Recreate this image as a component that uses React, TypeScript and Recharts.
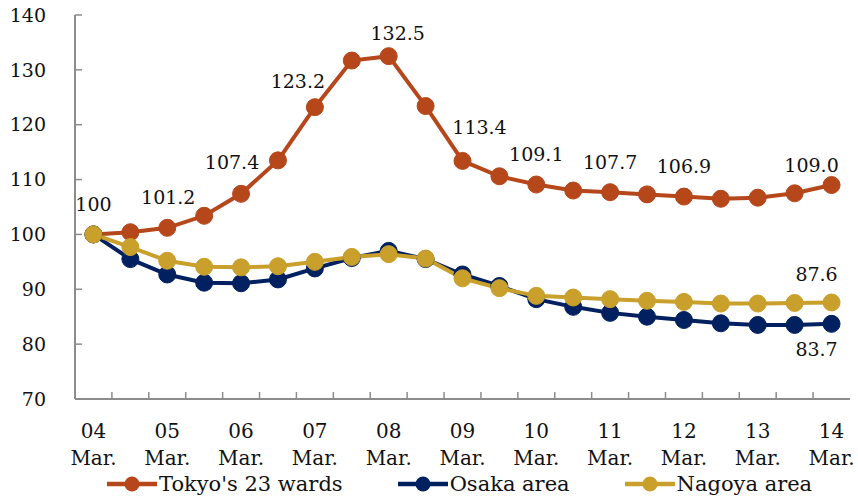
import { LineChart, Line, XAxis, YAxis, LabelList } from "recharts";

// half-yearly index, March 2004 = 100
const periods = [
  "04 Mar.", "04 Sep.", "05 Mar.", "05 Sep.", "06 Mar.", "06 Sep.", "07 Mar.",
  "07 Sep.", "08 Mar.", "08 Sep.", "09 Mar.", "09 Sep.", "10 Mar.", "10 Sep.",
  "11 Mar.", "11 Sep.", "12 Mar.", "12 Sep.", "13 Mar.", "13 Sep.", "14 Mar.",
];
const tokyo = [
  100, 100.4, 101.2, 103.4, 107.4, 113.5, 123.2, 131.7, 132.5, 123.4, 113.4,
  110.6, 109.1, 108.0, 107.7, 107.3, 106.9, 106.5, 106.7, 107.5, 109.0,
];
const osaka = [
  100, 95.5, 92.7, 91.2, 91.1, 91.8, 93.8, 95.7, 97.0, 95.5, 92.7,
  90.6, 88.2, 86.8, 85.7, 85.0, 84.4, 83.8, 83.5, 83.5, 83.7,
];
const nagoya = [
  100, 97.7, 95.2, 94.1, 94.0, 94.2, 95.0, 95.9, 96.4, 95.6, 92.0,
  90.2, 88.8, 88.5, 88.2, 87.9, 87.7, 87.4, 87.4, 87.5, 87.6,
];
const yTicks = [70, 80, 90, 100, 110, 120, 130, 140];

const FONT = "'DejaVu Serif', serif";
const AXIS = "#8c8c8c";
const W = 858;
const H = 502;
const PLOT_LEFT = 75;
const PLOT_RIGHT = 8;
const HALF_STEP = (W - PLOT_LEFT - PLOT_RIGHT) / periods.length / 2;

const data = periods.map((p, i) => ({
  period: p,
  tokyo: tokyo[i],
  osaka: osaka[i],
  nagoya: nagoya[i],
}));

// which points carry a value label, and where the text sits relative to the dot
type Offsets = Record<number, [number, number]>;
const series: { key: string; name: string; color: string; labels: Offsets }[] = [
  {
    key: "tokyo",
    name: "Tokyo's 23 wards",
    color: "#b5471b",
    labels: {
      0: [0, -30], 2: [1, -30], 4: [-9, -31], 6: [-17, -26], 8: [9, -23],
      10: [17, -34], 12: [0, -30], 14: [0, -30], 16: [0, -30], 20: [-20, -20],
    },
  },
  { key: "osaka", name: "Osaka area", color: "#002060", labels: { 20: [-15, 26] } },
  { key: "nagoya", name: "Nagoya area", color: "#c9a02c", labels: { 20: [-15, -28] } },
];

const makeLabel = (offsets: Offsets) => (props: any) => {
  const { x, y, value, index } = props;
  const off = offsets[index];
  if (!off) return null;
  const text = index === 0 ? String(value) : Number(value).toFixed(1);
  return (
    <text
      x={x + off[0]}
      y={y + off[1]}
      dy="0.35em"
      textAnchor="middle"
      fontSize={19}
      fontFamily={FONT}
      fill="#111"
    >
      {text}
    </text>
  );
};

// category ticks sit between the points and point up into the plot
const XTick = (props: any) => {
  const { x, y, payload } = props;
  const i = payload.index ?? props.index;
  const [yy, mon] = String(payload.value).split(" ");
  return (
    <g>
      {i < periods.length - 1 && (
        <line x1={x + HALF_STEP} x2={x + HALF_STEP} y1={y} y2={y - 7} stroke={AXIS} strokeWidth={1.5} />
      )}
      {mon === "Mar." && (
        <text textAnchor="middle" fontSize={20} fontFamily={FONT} fill="#111">
          <tspan x={x} y={y + 39}>{yy}</tspan>
          <tspan x={x} y={y + 66}>{mon}</tspan>
        </text>
      )}
    </g>
  );
};

const YTick = (props: any) => {
  const { y, payload } = props;
  return (
    <g>
      <line x1={PLOT_LEFT} x2={PLOT_LEFT + 7} y1={y} y2={y} stroke={AXIS} strokeWidth={1.5} />
      <text x={PLOT_LEFT - 29} y={y} dy="0.35em" textAnchor="end" fontSize={19} fontFamily={FONT} fill="#111">
        {payload.value}
      </text>
    </g>
  );
};

const LegendIcon = ({ color }: { color: string }) => (
  <svg width={50} height={20}>
    <line x1={0} x2={50} y1={10} y2={10} stroke={color} strokeWidth={4.5} />
    <circle cx={25} cy={10} r={7.5} fill={color} />
  </svg>
);

export default function App() {
  return (
    <div style={{ position: "absolute", left: 0, top: 0, width: W, height: H, background: "#fff" }}>
      <LineChart
        width={W}
        height={H}
        data={data}
        margin={{ top: 15, right: PLOT_RIGHT, left: 0, bottom: 28 }}
      >
        <XAxis
          dataKey="period"
          interval={0}
          height={75}
          padding={{ left: HALF_STEP, right: HALF_STEP }}
          axisLine={{ stroke: AXIS, strokeWidth: 2 }}
          tickLine={false}
          tickSize={0}
          tickMargin={0}
          tick={<XTick />}
        />
        {/* frame: top and right edges */}
        <XAxis
          xAxisId="frame"
          dataKey="period"
          orientation="top"
          height={0}
          tick={false}
          tickLine={false}
          axisLine={{ stroke: AXIS, strokeWidth: 2 }}
        />
        <YAxis
          domain={[70, 140]}
          ticks={yTicks}
          interval={0}
          width={PLOT_LEFT}
          axisLine={{ stroke: AXIS, strokeWidth: 2 }}
          tickLine={false}
          tickSize={0}
          tickMargin={0}
          tick={<YTick />}
        />
        <YAxis
          yAxisId="frame"
          orientation="right"
          domain={[70, 140]}
          width={0}
          tick={false}
          tickLine={false}
          axisLine={{ stroke: AXIS, strokeWidth: 2 }}
        />
        {series.map((s) => (
          <Line
            key={s.key}
            dataKey={s.key}
            name={s.name}
            stroke={s.color}
            strokeWidth={4}
            dot={{ r: 8.5, fill: s.color, stroke: s.color, strokeWidth: 1 }}
            isAnimationActive={false}
          >
            <LabelList dataKey={s.key} content={makeLabel(s.labels)} />
          </Line>
        ))}
      </LineChart>
      <div
        style={{
          position: "absolute",
          top: 472,
          left: 107,
          height: 24,
          display: "flex",
          alignItems: "center",
          gap: 55,
          fontFamily: FONT,
          fontSize: 21,
          color: "#111",
        }}
      >
        {series.map((s) => (
          <div key={s.key} style={{ display: "flex", alignItems: "center", gap: 2 }}>
            <LegendIcon color={s.color} />
            <span>{s.name}</span>
          </div>
        ))}
      </div>
    </div>
  );
}
